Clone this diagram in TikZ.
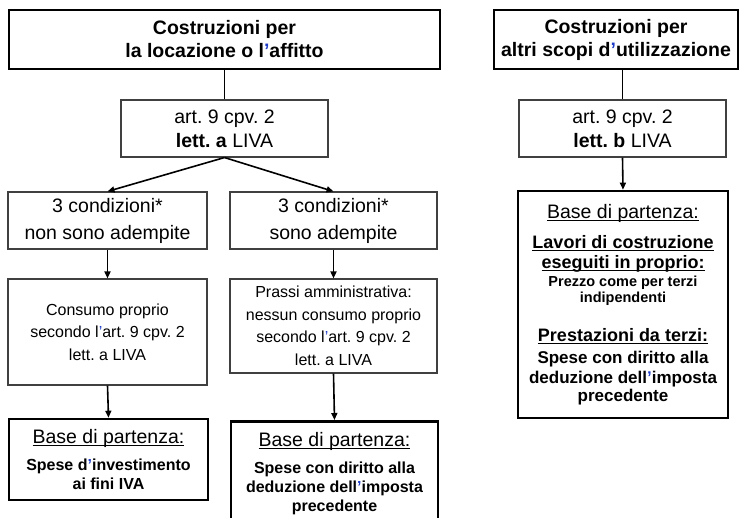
\documentclass[tikz,border=0pt]{standalone}
\usepackage{fontspec}
\setmainfont{Liberation Sans}
\usetikzlibrary{arrows.meta, positioning}
\definecolor{apoblue}{RGB}{30,60,200}
\definecolor{thinline}{gray}{0.25}
\newcommand{\apo}{\textcolor{apoblue}{’}}
\newcommand{\fsz}[2]{\fontsize{#1}{#2}\selectfont}
% underline that sits just under the baseline
\newcommand{\undl}[1]{\setbox0\hbox{#1}\rlap{\rule[-2.6pt]{\wd0}{1.1pt}}\box0}
\frenchspacing

\begin{document}
\begin{tikzpicture}[x=1pt, y=1pt, >={Triangle[length=7pt, width=6pt]}]
  % --- STYLE DEFINITIONS ---
  \tikzstyle{headbox}=[draw, line width=2.6pt, align=center, inner sep=0pt, minimum height=59pt, font=\fsz{19.5}{23}\bfseries]
  \tikzstyle{normbox}=[draw=thinline, line width=1.1pt, align=center, inner sep=0pt, font=\fsz{19.5}{24}]
  \tikzstyle{smallbox}=[normbox, font=\fsz{16}{22.5}]
  \tikzstyle{basebox}=[draw, line width=2.6pt, align=center, inner sep=0pt, font=\fsz{19.5}{19}]
  \tikzstyle{link}=[line width=1.6pt]
  \tikzstyle{flow}=[link, ->]

  % --- MACROS FOR TEXT LINES IN THE BASE BOXES ---
  \newcommand{\boldline}[1]{{\fsz{16}{19}\bfseries #1}}
  \newcommand{\bighead}[1]{{\fsz{18}{19}\bfseries\undl{#1}}}
  \newcommand{\smallline}[1]{{\fsz{14.5}{16}\bfseries #1}}
  \newcommand{\midline}[1]{{\fsz{17}{19}\bfseries #1}}

  \useasboundingbox (0,0) rectangle (739,517);
  \clip (0,0) rectangle (739,517);

  % =================================================================
  % LEFT COLUMN: LOCAZIONE O AFFITTO
  % =================================================================
  \node[headbox, minimum width=431pt] (topL) at (224.5,477.5) {Costruzioni per\\la locazione o l\apo affitto};
  \node[normbox, minimum width=207pt, minimum height=57pt] (artA) at (224.5,388.5) {art. 9 cpv. 2\\\textbf{lett. a} LIVA};
  \draw[link] (topL.south) -- (artA.north);

  % two branches
  \node[normbox, minimum width=199pt, minimum height=57pt, font=\fsz{19.5}{27}] (condNo) at (107.5,296.5) {3 condizioni*\\non sono adempite};
  \node[normbox, minimum width=207pt, minimum height=57pt, font=\fsz{19.5}{27}] (condYes) at (333.5,296.5) {3 condizioni*\\sono adempite};
  \draw[flow] (artA.south) -- (condNo.north);
  \draw[flow] (artA.south) -- (condYes.north);

  \node[smallbox, minimum width=199pt, minimum height=106pt] (consumo) at (107.5,185) {Consumo proprio\\secondo l\apo art. 9 cpv. 2\\lett. a LIVA};
  \node[smallbox, minimum width=207pt, minimum height=94pt] (prassi) at (333.5,191) {Prassi amministrativa:\\nessun consumo proprio\\secondo l\apo art. 9 cpv. 2\\lett. a LIVA};
  \draw[flow] (condNo.south) -- (consumo.north);
  \draw[flow] (condYes.south) -- (prassi.north);

  \node[basebox, minimum width=199pt, minimum height=81pt] (baseInv) at (108.5,57.5) {\undl{Base di partenza:}\\[8pt]
    \boldline{Spese d\apo investimento}\\
    \boldline{ai fini IVA}};
  \node[basebox, minimum width=207pt, minimum height=105pt, anchor=north] (baseDed) at (334.5,97) {\undl{Base di partenza:}\\[8pt]
    \boldline{Spese con diritto alla}\\
    \boldline{deduzione dell\apo imposta}\\
    \boldline{precedente}};
  \draw[flow] (consumo.south) -- (baseInv.north);
  \draw[flow] (prassi.south) -- (baseDed.north);

  % =================================================================
  % RIGHT COLUMN: ALTRI SCOPI D'UTILIZZAZIONE
  % =================================================================
  \node[headbox, minimum width=244pt] (topR) at (616,477.5) {Costruzioni per\\altri scopi d\apo utilizzazione};
  \node[normbox, minimum width=207pt, minimum height=57pt] (artB) at (622.5,388.5) {art. 9 cpv. 2\\\textbf{lett. b} LIVA};
  \draw[link] (artB.north |- topR.south) -- (artB.north);

  \node[basebox, minimum width=210pt, minimum height=227pt] (baseOwn) at (623,212.5) {\undl{Base di partenza:}\\[11pt]
    \bighead{Lavori di costruzione}\\[1pt]
    \bighead{eseguiti in proprio:}\\[-1pt]
    \smallline{Prezzo come per terzi}\\[-3pt]
    \smallline{indipendenti}\\[20pt]
    \bighead{Prestazioni da terzi:}\\[3pt]
    \midline{Spese con diritto alla}\\[1pt]
    \midline{deduzione dell\apo imposta}\\[-1pt]
    \midline{precedente}};
  \draw[flow] (artB.south) -- (baseOwn.north);

\end{tikzpicture}
\end{document}
